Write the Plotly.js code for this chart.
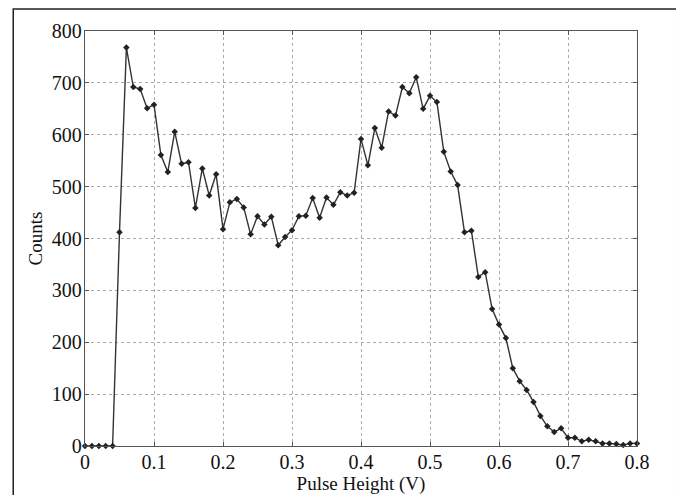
<!DOCTYPE html>
<html>
<head>
<meta charset="utf-8">
<script src="https://cdn.plot.ly/plotly-3.0.1.min.js"></script>
<style>html,body{margin:0;padding:0;background:#fff;}#chart{width:676px;height:495px;}</style>
</head>
<body>
<div id="chart"></div>
<script>
const pulseHeight = [0.00,0.01,0.02,0.03,0.04,0.05,0.06,0.07,0.08,0.09,
  0.10,0.11,0.12,0.13,0.14,0.15,0.16,0.17,0.18,0.19,
  0.20,0.21,0.22,0.23,0.24,0.25,0.26,0.27,0.28,0.29,
  0.30,0.31,0.32,0.33,0.34,0.35,0.36,0.37,0.38,0.39,
  0.40,0.41,0.42,0.43,0.44,0.45,0.46,0.47,0.48,0.49,
  0.50,0.51,0.52,0.53,0.54,0.55,0.56,0.57,0.58,0.59,
  0.60,0.61,0.62,0.63,0.64,0.65,0.66,0.67,0.68,0.69,
  0.70,0.71,0.72,0.73,0.74,0.75,0.76,0.77,0.78,0.79,0.80];
const counts = [0,0,0,0,0,412,768,692,688,651,
  658,561,528,606,544,547,459,535,483,524,
  418,470,476,460,408,443,427,442,387,403,
  416,443,444,478,440,479,465,489,483,488,
  592,541,613,575,645,637,692,680,711,650,
  675,663,567,529,503,412,415,326,335,264,
  234,208,150,125,108,85,58,38,27,34,
  16,16,9,12,9,5,5,4,2,5,5];
const xTicks = [0,0.1,0.2,0.3,0.4,0.5,0.6,0.7,0.8];
const xTickText = ['0','0.1','0.2','0.3','0.4','0.5','0.6','0.7','0.8'];
const yTicks = [0,100,200,300,400,500,600,700,800];

const tickFont = {family:'"Liberation Serif", "DejaVu Serif", serif', size:20, color:'#111'};
const titleFont = {family:'"Liberation Serif", "DejaVu Serif", serif', size:19, color:'#111'};

const trace = {
  x: pulseHeight, y: counts, type:'scatter', mode:'lines+markers',
  line:{color:'#333', width:1.4},
  marker:{symbol:'diamond', size:5, color:'#222'},
  cliponaxis:false
};

const axisCommon = {
  showline:true, linecolor:'#555', linewidth:1.3, mirror:'ticks',
  ticks:'inside', ticklen:4, tickcolor:'#555',
  showgrid:true, gridcolor:'#aaa', griddash:'dot', gridwidth:1,
  zeroline:false, tickfont:tickFont
};

const layout = {
  width:676, height:495,
  margin:{l:85, r:39, t:31, b:49},
  paper_bgcolor:'#fff', plot_bgcolor:'#fff',
  showlegend:false,
  font:tickFont,
  xaxis:Object.assign({}, axisCommon, {
    range:[0,0.8], tickvals:xTicks, ticktext:xTickText, ticklabelstandoff:-2,
    title:{text:'Pulse Height (V)', font:titleFont, standoff:0}
  }),
  yaxis:Object.assign({}, axisCommon, {
    range:[0,800], tickvals:yTicks, ticklabelstandoff:-2,
    title:{text:'Counts', font:titleFont, standoff:4}
  }),
  shapes:[{
    type:'rect', xref:'paper', yref:'paper',
    x0:-0.130, x1:1.072, y0:-0.2, y1:1.053,
    line:{color:'#222', width:1.5}, fillcolor:'rgba(0,0,0,0)', layer:'below'
  }]
};

Plotly.newPlot('chart', [trace], layout, {staticPlot:true, displayModeBar:false});
</script>
</body>
</html>
